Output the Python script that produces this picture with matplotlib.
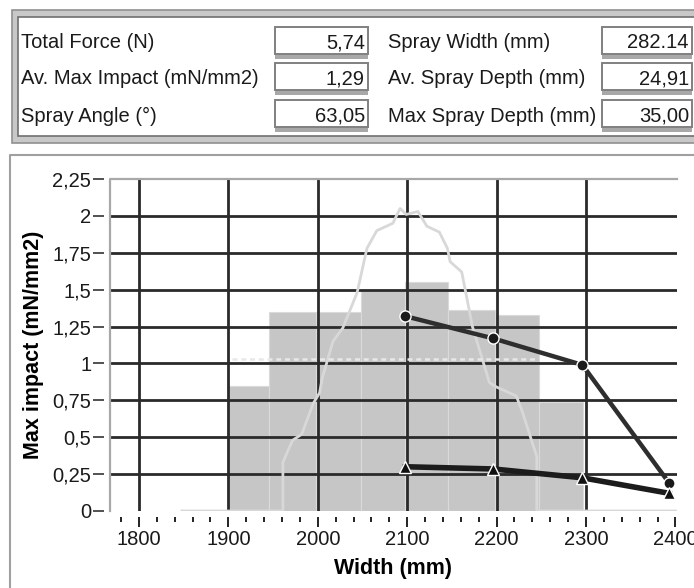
import numpy as np
import matplotlib
matplotlib.use('Agg')
import matplotlib.pyplot as plt
from matplotlib.patches import Rectangle
from matplotlib.ticker import MultipleLocator, FuncFormatter

plt.rcParams['font.family'] = ['Liberation Sans', 'DejaVu Sans']

# Summary fields (top panel)
left_labels = ['Total Force (N)', 'Av. Max Impact (mN/mm2)', 'Spray Angle (°)']
left_values = ['5,74', '1,29', '63,05']
right_labels = ['Spray Width (mm)', 'Av. Spray Depth (mm)', 'Max Spray Depth (mm)']
right_values = ['282.14', '24,91', '35,00']

# Histogram bars (bin edges in mm, heights in mN/mm2)
bar_edges = [1900, 1946, 1998, 2048, 2098, 2146, 2198, 2247, 2297]
bar_heights = [0.85, 1.35, 1.35, 1.50, 1.55, 1.36, 1.33, 0.74]

# Impact profile (light grey trace)
profile_x = [1848, 1961, 1961, 1966, 1972, 1982, 1995, 2002, 2005, 2017, 2028, 2044,
             2055, 2066, 2084, 2092, 2099, 2112, 2122, 2136, 2145, 2148, 2161, 2173,
             2184, 2192, 2200, 2222, 2229, 2239, 2245, 2245, 2400]
profile_y = [0, 0, 0.33, 0.40, 0.48, 0.52, 0.73, 0.80, 0.90, 1.15, 1.24, 1.48,
             1.78, 1.90, 1.95, 2.05, 2.01, 2.03, 1.93, 1.89, 1.78, 1.69, 1.62, 1.25,
             1.03, 0.87, 0.84, 0.78, 0.67, 0.48, 0.37, 0, 0]

# Average level (dotted)
avg_x = [1904, 2245]
avg_y = [1.03, 1.03]

# Depth series
depth_x = [2098, 2196, 2296, 2393]
circle_y = [1.32, 1.17, 0.99, 0.19]
triangle_y = [0.30, 0.285, 0.225, 0.12]

W, H = 694, 588
fig = plt.figure(figsize=(W / 100, H / 100), dpi=100)

# background / panels in pixel coordinates
bg = fig.add_axes([0, 0, 1, 1])
bg.set_xlim(0, W)
bg.set_ylim(H, 0)
bg.axis('off')

bg.add_patch(Rectangle((12, 10), 700, 133, facecolor='#c8c8c8', edgecolor='#909090', lw=1.2))
bg.add_patch(Rectangle((18, 17), 700, 119, facecolor='white', edgecolor='#707070', lw=1.2))

rows_y = [43, 79, 116]
box_tops = [27, 63, 100]
for i in range(3):
    for x0, x1 in [(275, 368), (602, 692)]:
        bg.add_patch(Rectangle((x0, box_tops[i] + 27), x1 - x0, 5, facecolor='#a8a8a8', edgecolor='none'))
        bg.add_patch(Rectangle((x0, box_tops[i]), x1 - x0, 27, facecolor='white', edgecolor='#808080', lw=1.4))
    bg.text(21, rows_y[i], left_labels[i], fontsize=14.5, va='center', ha='left', color='#1a1a1a')
    bg.text(388, rows_y[i], right_labels[i], fontsize=14.5, va='center', ha='left', color='#1a1a1a')
    bg.text(365, rows_y[i], left_values[i], fontsize=14.5, va='center', ha='right', color='#1a1a1a')
    bg.text(689, rows_y[i], right_values[i], fontsize=14.5, va='center', ha='right', color='#1a1a1a')

# lower panel frame
bg.plot([10, 10, W], [H, 155, 155], color='#a0a0a0', lw=1.5)

# chart
ax = fig.add_axes([110 / W, (H - 511) / H, (677 - 110) / W, (511 - 179) / H])
ax.set_xlim(1767.6, 2401.8)
ax.set_ylim(0, 2.25)
ax.patch.set_alpha(0)

widths = np.diff(bar_edges)
ax.bar(bar_edges[:-1], bar_heights, width=widths, align='edge',
       color='#c6c6c6', edgecolor='#dadada', linewidth=0.8, zorder=1)

for yv in np.arange(0.25, 2.01, 0.25):
    ax.axhline(yv, color='#2a2a2a', lw=2, zorder=2)
for xv in range(1800, 2301, 100):
    ax.axvline(xv, color='#2a2a2a', lw=2, zorder=2)

ax.plot(profile_x, profile_y, color='#d8d8d8', lw=2, zorder=3)
ax.plot(avg_x, avg_y, color='#e8e8e8', lw=1.8, ls=(0, (2, 1.5)), zorder=3)

ax.plot(depth_x, circle_y, color='#2e2e2e', lw=3.2, marker='o', ms=8,
        mfc='#1a1a1a', mec='white', mew=1.0, zorder=4)
ax.plot(depth_x, triangle_y, color='#1c1c1c', lw=4, marker='^', ms=8.5,
        mfc='#111111', mec='white', mew=1.0, zorder=4)

for s in ['right', 'top', 'left', 'bottom']:
    ax.spines[s].set_visible(False)
ax.spines['left'].set_position(('outward', 4))
ax.spines['bottom'].set_position(('outward', 4))
ax.plot([0, 0, 1], [0, 1, 1], transform=ax.transAxes, color='#a8a8a8', lw=1.6,
        clip_on=False, zorder=5)

ax.xaxis.set_major_locator(MultipleLocator(100))
ax.xaxis.set_minor_locator(MultipleLocator(20))
ax.yaxis.set_major_locator(MultipleLocator(0.25))
ax.yaxis.set_major_formatter(FuncFormatter(lambda v, p: ('%g' % v).replace('.', ',')))
ax.tick_params(axis='x', which='major', length=7, width=1.4, color='#222222',
               labelsize=14.5, pad=3, labelcolor='#1a1a1a')
ax.tick_params(axis='x', which='minor', length=3.5, width=1.4, color='#222222')
ax.tick_params(axis='y', which='major', length=8, width=1.2, color='#333333',
               labelsize=14.5, pad=1.5, labelcolor='#1a1a1a')

ax.set_xlabel('Width (mm)', fontsize=15.5, fontweight='bold', labelpad=6)
ax.set_ylabel('Max impact (mN/mm2)', fontsize=15.5, fontweight='bold', labelpad=6)

plt.savefig('out.png', dpi=100)
